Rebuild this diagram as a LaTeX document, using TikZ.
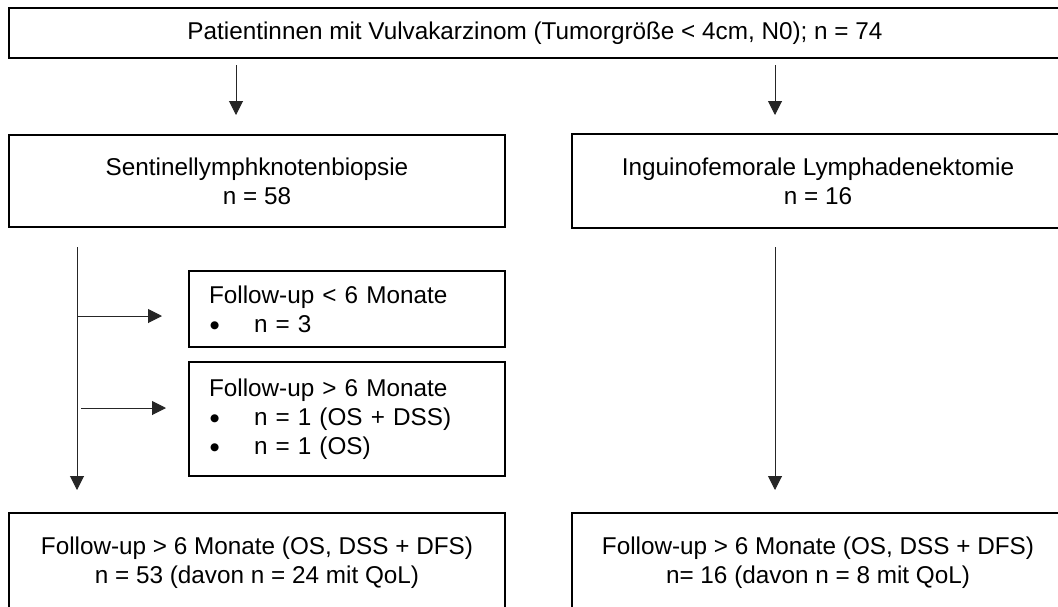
\documentclass[tikz,border=0pt]{standalone}
\usepackage{fontspec}
\setmainfont{Liberation Sans}
\newfontfamily\dvsans{DejaVu Sans}
\newcommand{\bul}{\makebox[45pt][l]{\hspace{1pt}\raisebox{4pt}{\dvsans\fontsize{10.5}{29}\selectfont ●}}}
\usetikzlibrary{arrows.meta}
\begin{document}
\begin{tikzpicture}[x=1pt,y=-1pt,
  box/.style={draw=black, line width=1.6pt, rectangle, inner sep=0pt, align=center,
    font=\fontsize{24.3}{29}\selectfont},
  lbox/.style={box, align=left, text width=276pt},
  arr/.style={draw=black!85, line width=1pt, -{Triangle[width=14pt,length=14pt]}}]
\useasboundingbox (0,0) rectangle (1058,606);
\clip (0,0) rectangle (1058,606);
\fill[white] (0,0) rectangle (1058,606);
\node[box, minimum width=1052pt, minimum height=50pt] (top) at (535,33)
  {Patientinnen mit Vulvakarzinom (Tumorgröße < 4cm, N0); n = 74};
\node[box, minimum width=496pt, minimum height=92pt] (sln) at (257,181)
  {Sentinellymphknotenbiopsie\\n = 58};
\node[box, minimum width=492pt, minimum height=94pt] (ilk) at (818,181)
  {Inguinofemorale Lymphadenektomie\\n = 16};
\node[lbox, minimum width=316pt, minimum height=76pt] (fu1) at (347,309)
  {Follow-up < 6 Monate\\\bul n = 3};
\node[lbox, minimum width=316pt, minimum height=114pt] (fu2) at (347,419)
  {Follow-up > 6 Monate\\\bul n = 1 (OS + DSS)\\\bul n = 1 (OS)};
\node[box, minimum width=496pt, minimum height=100pt] (bl) at (257,563)
  {Follow-up > 6 Monate (OS, DSS + DFS)\\n = 53 (davon n = 24 mit QoL)};
\node[box, minimum width=492pt, minimum height=100pt] (br) at (818,563)
  {Follow-up > 6 Monate (OS, DSS + DFS)\\n= 16 (davon n = 8 mit QoL)};
% connector end points
\coordinate (t1) at (236,65);  \coordinate (s1) at (236,115);
\coordinate (t2) at (775,65);  \coordinate (s2) at (775,115);
\coordinate (v1) at (77,247);  \coordinate (e1) at (77,490);
\coordinate (b1) at (77,316);  \coordinate (f1) at (162,316);
\coordinate (b2) at (81,408);  \coordinate (f2) at (166,408);
\coordinate (v2) at (775,247); \coordinate (e2) at (775,490);
\draw[arr] (t1) -- (s1);
\draw[arr] (t2) -- (s2);
\draw[arr] (v1) -- (e1);
\draw[arr] (b1) -- (f1);
\draw[arr] (b2) -- (f2);
\draw[arr] (v2) -- (e2);
\end{tikzpicture}
\end{document}
